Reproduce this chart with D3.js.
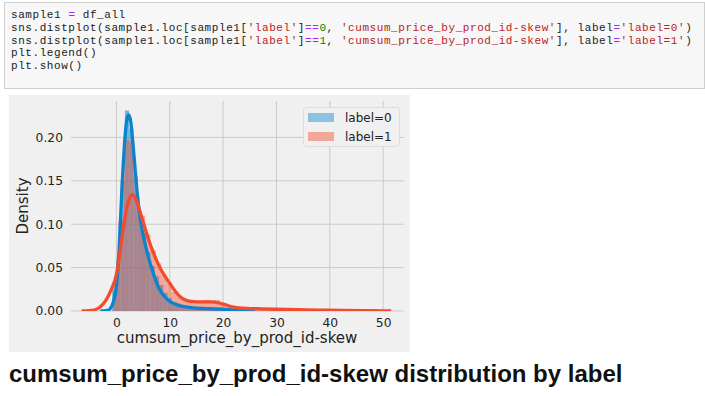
<!DOCTYPE html>
<html>
<head>
<meta charset="utf-8">
<script src="https://cdn.jsdelivr.net/npm/d3@7"></script>
<style>
	body { margin: 0; background: #fff; }
	svg { display: block; }
	text { white-space: pre; }
</style>
</head>
<body>
<svg></svg>
<script>
// notebook cell shown above the figure
const codeLines = [
	[["sample1 ", "n"], ["=", "o"], [" df_all", "n"]],
	[["sns.distplot(sample1.loc[sample1[", "n"], ["'label'", "s"], ["]", "n"], ["==", "o"], ["0", "m"], [", ", "n"], ["'cumsum_price_by_prod_id-skew'", "s"], ["], label", "n"], ["=", "o"], ["'label=0'", "s"], [")", "n"]],
	[["sns.distplot(sample1.loc[sample1[", "n"], ["'label'", "s"], ["]", "n"], ["==", "o"], ["1", "m"], [", ", "n"], ["'cumsum_price_by_prod_id-skew'", "s"], ["], label", "n"], ["=", "o"], ["'label=1'", "s"], [")", "n"]],
	[["plt.legend()", "n"]],
	[["plt.show()", "n"]]
];
const tokenColours = {n: '#1a1a1a', o: '#aa22ff', s: '#ba2121', m: '#008800'};

const labels = ['label=0', 'label=1'];
const colours = ['#0a84cc', '#f24b2d'];
const histOpacity = [0.55, 0.44];

// histogram bins (left edge) and densities
const binWidth0 = 0.8;
const hist0X = [-0.8, 0, 0.8, 1.6, 2.4, 3.2, 4.0, 4.8, 5.6, 6.4, 7.2, 8.0, 8.8, 9.6, 10.4, 11.2, 12.0, 12.8, 13.6, 14.4, 15.2, 16.0, 16.8, 17.6, 18.4, 19.2, 20.0, 20.8];
const hist0Y = [0.024, 0.06, 0.15, 0.231, 0.21, 0.155, 0.115, 0.09, 0.068, 0.052, 0.04, 0.03, 0.021, 0.015, 0.01, 0.008, 0.006, 0.005, 0.004, 0.004, 0.003, 0.003, 0.003, 0.003, 0.002, 0.002, 0.002, 0.001];
const binWidth1 = 1.0;
const hist1X = [-0.6, 0.4, 1.4, 2.4, 3.4, 4.4, 5.4, 6.4, 7.4, 8.4, 9.4, 10.4, 11.4, 12.4, 13.4, 14.4, 15.4, 16.4, 17.4, 18.4, 19.4, 20.4, 21.4, 22.4, 23.4, 24.4, 25.4, 26.4, 27.4, 28.4, 29.4, 30.4, 32.4, 35.4, 38.4, 41.4, 44.4, 47.4];
const hist1Y = [0.035, 0.105, 0.197, 0.195, 0.13, 0.11, 0.088, 0.07, 0.055, 0.042, 0.032, 0.022, 0.017, 0.013, 0.011, 0.01, 0.011, 0.0128, 0.0105, 0.0128, 0.007, 0.004, 0.003, 0.002, 0.0025, 0.002, 0.003, 0.002, 0.002, 0.0015, 0.0015, 0.0012, 0.001, 0.001, 0.0008, 0.0006, 0.0005, 0.0004];

// kde curves
const kde0X = [-3, -2, -1.5, -1, -0.5, 0, 0.5, 1, 1.5, 2, 2.3, 2.7, 3, 3.5, 4, 4.5, 5, 6, 7, 8, 9, 10, 11, 12, 14, 16, 18, 20, 22, 24, 26];
const kde0Y = [0, 0.0005, 0.001, 0.004, 0.012, 0.028, 0.07, 0.135, 0.19, 0.222, 0.226, 0.218, 0.2, 0.165, 0.13, 0.105, 0.088, 0.062, 0.042, 0.026, 0.017, 0.011, 0.008, 0.006, 0.004, 0.003, 0.0025, 0.002, 0.001, 0.0004, 0];
const kde1X = [-6.5, -5, -4, -3, -2, -1, 0, 0.5, 1, 1.5, 2, 2.5, 3, 3.5, 4, 5, 6, 7, 8, 9, 10, 11, 12, 13, 14, 15, 16, 17, 18, 19, 20, 21, 22, 23, 25, 27, 30, 34, 38, 42, 46, 50, 51.5];
const kde1Y = [0, 0.0005, 0.0015, 0.005, 0.012, 0.024, 0.042, 0.06, 0.082, 0.103, 0.12, 0.13, 0.134, 0.131, 0.123, 0.103, 0.083, 0.066, 0.052, 0.041, 0.032, 0.023, 0.016, 0.0125, 0.011, 0.0105, 0.0105, 0.0105, 0.0105, 0.0095, 0.008, 0.006, 0.0045, 0.0035, 0.0028, 0.0025, 0.002, 0.0015, 0.0011, 0.0008, 0.0005, 0.0002, 0];

const xTicks = [0, 10, 20, 30, 40, 50];
const yTicks = [0, 0.05, 0.10, 0.15, 0.20];

const width = 705;
const height = 396;

const svg = d3.select('svg')
	.attr('width', width)
	.attr('height', height);

// code cell
svg.append('rect')
	.attr('x', 4.5).attr('y', 2.5)
	.attr('width', 700).attr('height', 86)
	.attr('fill', '#f7f7f7')
	.attr('stroke', '#cfcfcf');

const codeText = svg.append('g')
	.selectAll('text')
	.data(codeLines)
	.enter().append('text')
		.attr('x', 11)
		.attr('y', (d, i) => 18 + i * 12.8)
		.attr('font-family', '"Liberation Mono", "DejaVu Sans Mono", monospace')
		.attr('font-size', 11)
		.attr('letter-spacing', 0.57);
codeText.selectAll('tspan')
	.data(d => d)
	.enter().append('tspan')
		.text(d => d[0])
		.attr('fill', d => tokenColours[d[1]]);

// figure background
svg.append('rect')
	.attr('x', 9).attr('y', 95)
	.attr('width', 401).attr('height', 257)
	.attr('fill', '#f0f0f0');

const x = d3.scaleLinear().domain([-8.5, 53.9]).range([71, 404]);
const y = d3.scaleLinear().domain([0, 0.242]).range([311, 101]);

svg.append('clipPath').attr('id', 'ax')
	.append('rect')
	.attr('x', 71).attr('y', 101)
	.attr('width', 333).attr('height', 210);

// grid
const grid = svg.append('g').attr('stroke', '#cbcbcb').attr('stroke-width', 1);
grid.selectAll('.gx')
	.data(xTicks)
	.enter().append('line')
		.attr('x1', d => x(d)).attr('x2', d => x(d))
		.attr('y1', 101).attr('y2', 311);
grid.selectAll('.gy')
	.data(yTicks)
	.enter().append('line')
		.attr('y1', d => y(d)).attr('y2', d => y(d))
		.attr('x1', 71).attr('x2', 404);

const plot = svg.append('g').attr('clip-path', 'url(#ax)');

const hists = [
	hist0X.map((v, i) => ({x0: v, x1: v + binWidth0, h: hist0Y[i]})),
	hist1X.map((v, i) => ({x0: v, x1: v + (i < 31 ? binWidth1 : 3), h: hist1Y[i]}))
];
hists.forEach((bins, k) => {
	plot.append('g')
		.selectAll('rect')
		.data(bins)
		.enter().append('rect')
			.attr('x', d => x(d.x0))
			.attr('width', d => x(d.x1) - x(d.x0))
			.attr('y', d => y(d.h))
			.attr('height', d => y(0) - y(d.h))
			.attr('fill', colours[k])
			.attr('fill-opacity', histOpacity[k]);
});

const kdes = [
	kde0X.map((v, i) => [v, kde0Y[i]]),
	kde1X.map((v, i) => [v, kde1Y[i]])
];
const line = d3.line()
	.x(d => x(d[0]))
	.y(d => y(d[1]))
	.curve(d3.curveMonotoneX);
plot.selectAll('path.kde')
	.data(kdes)
	.enter().append('path')
		.attr('d', line)
		.attr('fill', 'none')
		.attr('stroke', (d, i) => colours[i])
		.attr('stroke-width', 3.3)
		.attr('stroke-linejoin', 'round');

// axes
const font = '"DejaVu Sans", sans-serif';
const yAxis = svg.append('g')
	.attr('transform', 'translate(71,0)')
	.call(d3.axisLeft(y).tickValues(yTicks).tickFormat(d3.format('.2f')).tickSize(0).tickPadding(8));
const xAxis = svg.append('g')
	.attr('transform', 'translate(0,311)')
	.call(d3.axisBottom(x).tickValues(xTicks).tickFormat(d3.format('d')).tickSize(0).tickPadding(7));
[xAxis, yAxis].forEach(a => {
	a.select('.domain').remove();
	a.selectAll('text')
		.attr('font-family', font)
		.attr('font-size', 12.3)
		.attr('fill', '#222');
});

svg.append('text')
	.text('cumsum_price_by_prod_id-skew')
	.attr('x', 237).attr('y', 343)
	.attr('text-anchor', 'middle')
	.attr('font-family', font)
	.attr('font-size', 15)
	.attr('fill', '#222');

svg.append('text')
	.text('Density')
	.attr('transform', 'translate(28,206) rotate(-90)')
	.attr('text-anchor', 'middle')
	.attr('font-family', font)
	.attr('font-size', 15)
	.attr('fill', '#222');

// legend
const legend = svg.append('g');
legend.append('rect')
	.attr('x', 303.5).attr('y', 107.5)
	.attr('width', 96).attr('height', 39)
	.attr('rx', 3)
	.attr('fill', '#f0f0f0')
	.attr('stroke', '#dcdcdc');
const entries = legend.selectAll('g.entry')
	.data(labels)
	.enter().append('g')
		.attr('transform', (d, i) => `translate(0,${117.5 + i * 19})`);
entries.append('rect')
	.attr('x', 308).attr('y', -4.5)
	.attr('width', 26).attr('height', 9)
	.attr('fill', (d, i) => colours[i])
	.attr('fill-opacity', 0.44);
entries.append('text')
	.text(d => d)
	.attr('x', 345).attr('y', 4.3)
	.attr('font-family', font)
	.attr('font-size', 12)
	.attr('fill', '#222');

// caption
svg.append('text')
	.text('cumsum_price_by_prod_id-skew distribution by label')
	.attr('x', 9).attr('y', 382)
	.attr('font-family', '"Liberation Sans", Arial, sans-serif')
	.attr('font-weight', 'bold')
	.attr('font-size', 24)
	.attr('fill', '#111');
</script>
</body>
</html>
